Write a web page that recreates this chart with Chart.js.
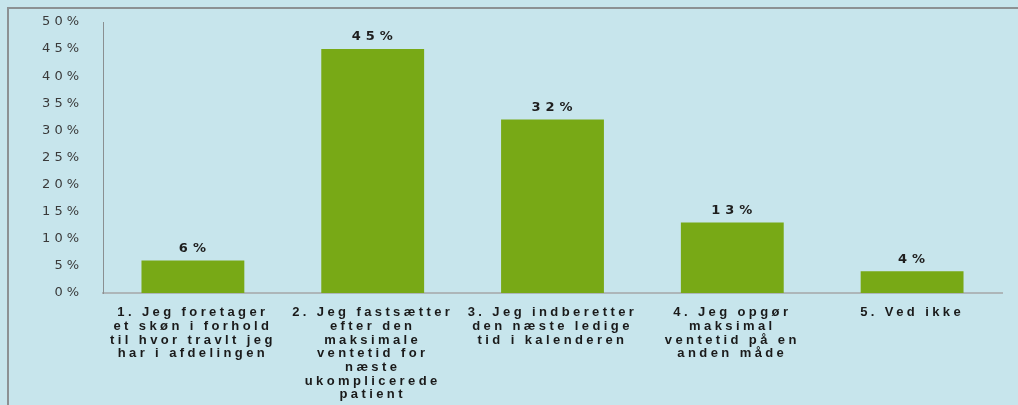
<!DOCTYPE html>
<html>
<head>
<meta charset="utf-8">
<script src="https://cdn.jsdelivr.net/npm/chart.js@4/dist/chart.umd.min.js"></script>
<style>
    html, body { margin: 0; padding: 0; background: #c7e5ec; overflow: hidden; }
    .frame {
        position: absolute; left: 7px; top: 7px; width: 1100px; height: 500px;
        border-top: 2px solid #8c9193; border-left: 2px solid #8c9193;
    }
    #chart { position: absolute; left: 0; top: 0; }
</style>
</head>
<body>
<div class="frame"></div>
<canvas id="chart" width="1018" height="405"></canvas>
<script>
// Answers, one multi-line label per option
const categories = [
    ['1. Jeg foretager', 'et skøn i forhold', 'til hvor travlt jeg', 'har i afdelingen'],
    ['2. Jeg fastsætter', 'efter den', 'maksimale', 'ventetid for', 'næste', 'ukomplicerede', 'patient'],
    ['3. Jeg indberetter', 'den næste ledige', 'tid i kalenderen'],
    ['4. Jeg opgør', 'maksimal', 'ventetid på en', 'anden måde'],
    ['5. Ved ikke']
];
const shares = [6, 45, 32, 13, 4];
const yTicks = [0, 5, 10, 15, 20, 25, 30, 35, 40, 45, 50];

// Draw a scale's labels with extra letter spacing
function spaceLabels(scale, spacing) {
    if (scale._spaced) return;
    const draw = scale.drawLabels;
    scale.drawLabels = function (area) {
        this.ctx.save();
        this.ctx.letterSpacing = spacing;
        draw.call(this, area);
        this.ctx.restore();
    };
    scale._spaced = true;
}

// Percentage above each bar
const valueLabels = {
    id: 'valueLabels',
    afterDatasetsDraw(chart) {
        const ctx = chart.ctx;
        const meta = chart.getDatasetMeta(0);
        ctx.save();
        ctx.letterSpacing = '5px';
        ctx.font = 'bold 13px "DejaVu Sans", Verdana, sans-serif';
        ctx.fillStyle = '#1e1e1e';
        ctx.textAlign = 'center';
        ctx.textBaseline = 'middle';
        meta.data.forEach((bar, i) => {
            ctx.fillText(shares[i] + '%', bar.x + 2, bar.y - 12);
        });
        ctx.restore();
    }
};

new Chart(document.getElementById('chart'), {
    type: 'bar',
    data: {
        labels: categories,
        datasets: [{
            data: shares,
            backgroundColor: '#78a916',
            categoryPercentage: 1,
            barPercentage: 0.572
        }]
    },
    options: {
        responsive: false,
        animation: false,
        layout: { padding: { top: 22, right: 16, left: 0, bottom: 0 } },
        plugins: {
            legend: { display: false },
            tooltip: { enabled: false }
        },
        scales: {
            x: {
                grid: { display: false, drawTicks: false },
                border: { display: true, color: '#adb6b9', width: 2 },
                ticks: {
                    padding: 13,
                    maxRotation: 0,
                    autoSkip: false,
                    color: '#1a1a1a',
                    font: { family: '"Liberation Sans", Arial, sans-serif', size: 13, weight: 'bold', lineHeight: 1.05 }
                },
                afterFit(scale) {
                    scale.height = 112;
                    spaceLabels(scale, '3.4px');
                }
            },
            y: {
                min: 0,
                max: 50,
                grid: { display: false, drawTicks: false },
                border: { display: true, color: '#8a8f91', width: 1 },
                afterBuildTicks(scale) { scale.ticks = yTicks.map(v => ({ value: v })); },
                ticks: {
                    padding: 20,
                    color: '#3a3a3a',
                    font: { family: '"DejaVu Sans", Verdana, sans-serif', size: 13 },
                    callback: v => v + '%'
                },
                afterFit(scale) {
                    scale.width = 103;
                    scale.paddingTop = 0;
                    spaceLabels(scale, '4px');
                }
            }
        }
    },
    plugins: [valueLabels]
});
</script>
</body>
</html>
